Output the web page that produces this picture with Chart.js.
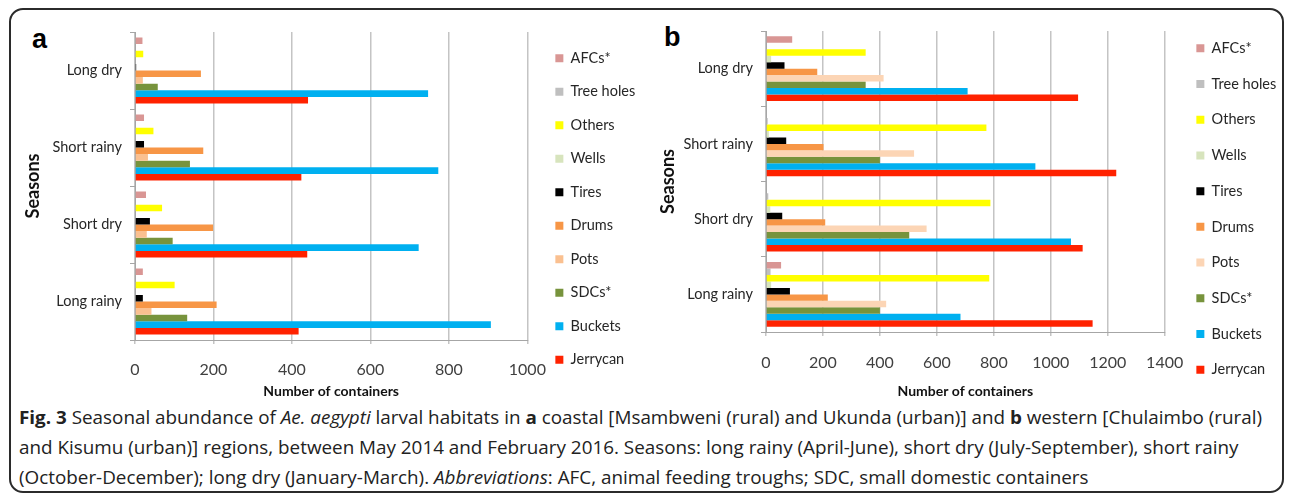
<!DOCTYPE html>
<html>
<head>
<meta charset="utf-8">
<script src="https://cdn.jsdelivr.net/npm/chart.js@4.4.1/dist/chart.umd.min.js"></script>
<style>
  body { margin: 0; background: #fff; width: 1292px; height: 498px; overflow: hidden; position: relative; font-family: Lato, sans-serif; }
  #frame { position: absolute; left: 9px; top: 8px; width: 1271px; height: 481px; border: 2px solid #2b2b2b; border-radius: 14px; }
  canvas { position: absolute; top: 14px; }
  #ca { left: 20px; }
  #cb { left: 655px; }
  .tag { position: absolute; font: bold 27px "Liberation Sans", Arial, sans-serif; color: #000; }
  .cap { position: absolute; left: 19px; white-space: nowrap; font: 18px "Open Sans", sans-serif; color: #222; transform-origin: 0 50%; line-height: 22px; }
</style>
</head>
<body>
<div id="frame"></div>
<div class="tag" style="left:32px;top:24px">a</div>
<div class="tag" style="left:664px;top:22px">b</div>
<canvas id="ca" width="630" height="390"></canvas>
<canvas id="cb" width="627" height="390"></canvas>
<div class="cap" id="l1" style="top:406px"><b>Fig. 3</b> Seasonal abundance of <i>Ae. aegypti</i> larval habitats in <b>a</b> coastal [Msambweni (rural) and Ukunda (urban)] and <b>b</b> western [Chulaimbo (rural)</div>
<div class="cap" id="l2" style="top:436px">and Kisumu (urban)] regions, between May 2014 and February 2016. Seasons: long rainy (April-June), short dry (July-September), short rainy</div>
<div class="cap" id="l3" style="top:466px">(October-December); long dry (January-March). <i>Abbreviations</i>: AFC, animal feeding troughs; SDC, small domestic containers</div>
<script>
// seasons, listed top to bottom as in the figure
const seasons = ['Long dry', 'Short rainy', 'Short dry', 'Long rainy'];
const habitats = ['AFCs*', 'Tree holes', 'Others', 'Wells', 'Tires', 'Drums', 'Pots', 'SDCs*', 'Buckets', 'Jerrycan'];

// a - coastal
const coastalAFCs      = [19, 23, 28, 20];
const coastalTreeHoles = [0, 0, 0, 0];
const coastalOthers    = [21, 47, 69, 101];
const coastalWells     = [0, 0, 0, 0];
const coastalTires     = [3, 23, 38, 20];
const coastalDrums     = [168, 174, 199, 208];
const coastalPots      = [20, 33, 30, 42];
const coastalSDCs      = [58, 140, 96, 133];
const coastalBuckets   = [747, 773, 723, 907];
const coastalJerrycan  = [441, 424, 439, 417];

// b - western
const westernAFCs      = [92, 0, 0, 53];
const westernTreeHoles = [0, 6, 8, 16];
const westernOthers    = [350, 774, 788, 784];
const westernWells     = [18, 10, 15, 18];
const westernTires     = [65, 71, 57, 84];
const westernDrums     = [180, 202, 208, 217];
const westernPots      = [413, 520, 564, 422];
const westernSDCs      = [350, 400, 503, 400];
const westernBuckets   = [708, 946, 1071, 683];
const westernJerrycan  = [1096, 1230, 1112, 1147];

const colorsA = ['#d99694', '#bfbfbf', '#ffff00', '#d7e4bd', '#000000', '#f79646', '#fac090', '#77933c', '#00b0f0', '#ff2200'];
const colorsB = ['#d99694', '#bfbfbf', '#ffff00', '#d7e4bd', '#000000', '#f79646', '#fcd5b5', '#77933c', '#00b0f0', '#ff2200'];

// moves the legend sideways after layout, the chart area stays where it is
const legendShift = {
  id: 'legendShift',
  afterLayout(chart, args, opts) {
    chart.legend.left += opts.dx;
    chart.legend.right += opts.dx;
  }
};

function drawPanel(id, series, colors, o) {
  const datasets = habitats.map((h, i) => ({
    label: h,
    data: series[i],
    backgroundColor: colors[i],
    borderWidth: 0,
    categoryPercentage: 0.86,
    barPercentage: 1
  }));
  return new Chart(document.getElementById(id), {
    type: 'bar',
    data: { labels: seasons, datasets: datasets },
    plugins: [legendShift],
    options: {
      indexAxis: 'y',
      responsive: false,
      animation: false,
      layout: { padding: { top: 0, right: o.right, bottom: 0, left: 0 } },
      plugins: {
        tooltip: { enabled: false },
        // empty title only keeps the plot below the top of the legend column
        title: { display: true, text: '', font: { size: 10 }, padding: { top: 0, bottom: o.space - 12 } },
        legend: {
          position: 'right',
          labels: { boxWidth: 8, boxHeight: 8, padding: o.gap, color: '#262626', font: { family: 'Lato', size: 14.5 } }
        },
        legendShift: { dx: o.dx }
      },
      scales: {
        x: {
          min: 0, max: o.max,
          ticks: { stepSize: 200, padding: o.tickPad, color: '#404040', font: { family: 'Lato', size: 16 }, callback: v => String(v) },
          grid: { color: '#c4c4c4', lineWidth: 1.5, tickLength: 4 },
          border: { color: '#a6a6a6' },
          title: { display: true, text: 'Number of containers', color: '#111', font: { family: 'Lato', size: 14, weight: 'bold' }, padding: { top: 2, bottom: 4.6 } },
          afterFit: s => { s.height = o.xh; }
        },
        y: {
          ticks: { padding: 8, color: '#262626', font: { family: 'Lato', size: 14.5 } },
          grid: { drawOnChartArea: false, tickLength: 5, color: '#a6a6a6' },
          border: { color: '#a6a6a6' },
          title: { display: true, text: 'Seasons', color: '#111', font: { family: 'Lato', size: 18, weight: 'bold' }, padding: 2 },
          afterFit: s => { s.width = o.yw; }
        }
      }
    }
  });
}

drawPanel('ca',
  [coastalAFCs, coastalTreeHoles, coastalOthers, coastalWells, coastalTires, coastalDrums, coastalPots, coastalSDCs, coastalBuckets, coastalJerrycan],
  colorsA, { max: 1000, space: 18, right: 13.75, dx: 9, gap: 19, tickPad: 16, xh: 64, yw: 115 });

drawPanel('cb',
  [westernAFCs, westernTreeHoles, westernOthers, westernWells, westernTires, westernDrums, westernPots, westernSDCs, westernBuckets, westernJerrycan],
  colorsB, { max: 1400, space: 17, right: 6.25, dx: 10.5, gap: 21.2, tickPad: 17, xh: 72, yw: 111 });

// squeeze caption lines to the width of the printed caption
const l1 = document.getElementById('l1');
const k = 1243 / l1.getBoundingClientRect().width;
['l1', 'l2', 'l3'].forEach(id => { document.getElementById(id).style.transform = 'scaleX(' + k + ')'; });
</script>
</body>
</html>
